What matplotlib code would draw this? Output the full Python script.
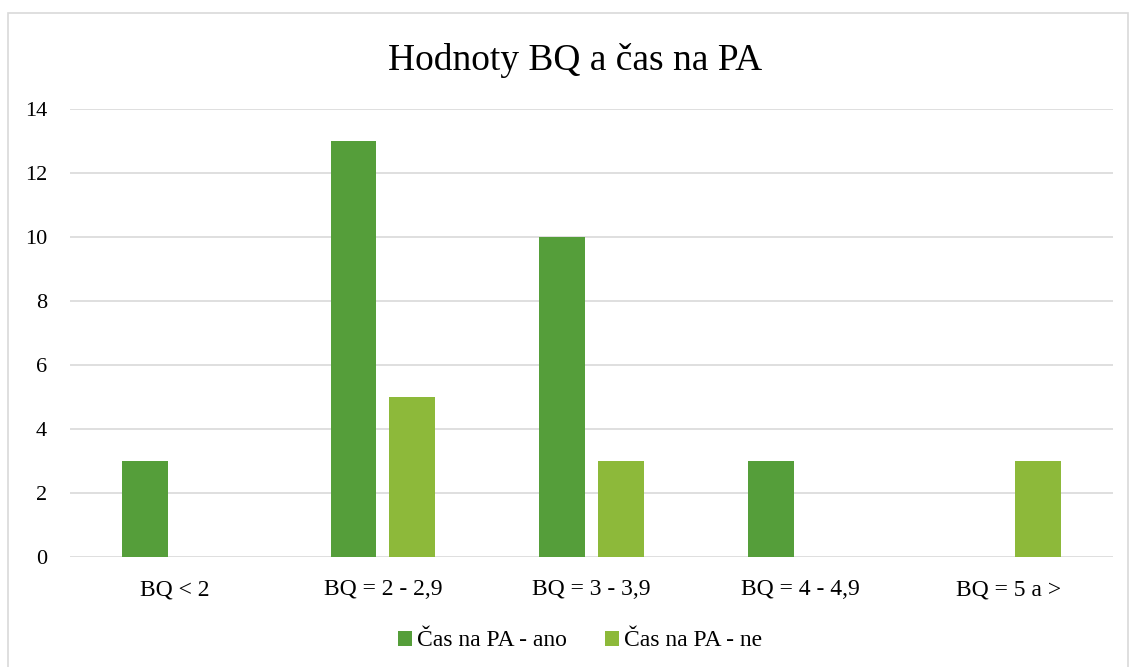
import matplotlib
matplotlib.use("Agg")
import matplotlib.pyplot as plt
import numpy as np
from matplotlib.patches import Rectangle

categories = ["BQ < 2", "BQ = 2 - 2,9", "BQ = 3 - 3,9", "BQ = 4 - 4,9", "BQ = 5 a >"]
ano = [3, 13, 10, 3, 0]
ne = [0, 5, 3, 0, 3]
series_names = ["Čas na PA - ano", "Čas na PA - ne"]
yticks = [0, 2, 4, 6, 8, 10, 12, 14]

plt.rcParams['font.family'] = ['Liberation Serif', 'DejaVu Serif']

W, H = 1130, 667
fig = plt.figure(figsize=(W/100, H/100), dpi=100)
fig.patches.append(Rectangle((8/W, -0.1), (1128-8)/W, (H-13)/H + 0.1, transform=fig.transFigure,
                             fill=False, edgecolor='#d9d9d9', linewidth=1.2))

left, right, top, bottom = 70, 1113, 109, 557
ax = fig.add_axes([left/W, 1-bottom/H, (right-left)/W, (bottom-top)/H])
x = np.arange(len(categories))
bw = 0.22
off = 0.141
c1, c2 = '#559E3A', '#8DB93A'
ax.bar(x - off, ano, bw, color=c1, label=series_names[0], zorder=3)
ax.bar(x + off, ne, bw, color=c2, label=series_names[1], zorder=3)
ax.set_xlim(-0.5, len(categories) - 0.5)
ax.set_ylim(0, 14)
ax.set_yticks(yticks)
ax.set_yticklabels([str(v) for v in yticks], fontsize=16)
ax.set_xticks(x)
ax.set_xticklabels(categories, fontsize=17)
ax.tick_params(axis='both', length=0)
ax.tick_params(axis='x', pad=27.5)
ax.tick_params(axis='y', pad=16.5)
for lab in ax.get_xticklabels():
    lab.set_verticalalignment('baseline')
ax.grid(axis='y', color='#d9d9d9', linewidth=1.2, zorder=0)
for s in ax.spines.values():
    s.set_visible(False)

fig.text(575/W, 1-60/H, "Hodnoty BQ a čas na PA", ha='center', va='center', fontsize=27)
leg = fig.legend(loc='center', bbox_to_anchor=(580/W, 1-641/H), ncol=2, frameon=False,
                 fontsize=17, handlelength=0.6, handleheight=0.6, handletextpad=0.2,
                 columnspacing=1.6)
fig.savefig("out.png", dpi=100)
